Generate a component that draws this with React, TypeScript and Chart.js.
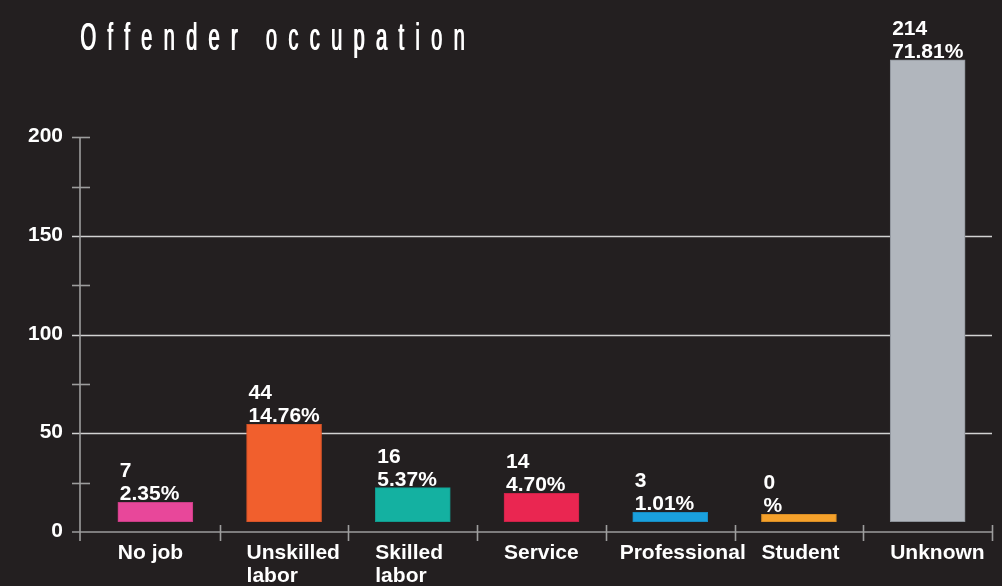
import React, { useEffect, useRef } from "react";
import { Chart, registerables } from "chart.js";

Chart.register(...registerables);

const title = "Offender occupation";
const categories: string[][] = [
  ["No job"],
  ["Unskilled", "labor"],
  ["Skilled", "labor"],
  ["Service"],
  ["Professional"],
  ["Student"],
  ["Unknown"],
];
const counts = [7, 44, 16, 14, 3, 0, 214];
const percents = ["2.35%", "14.76%", "5.37%", "4.70%", "1.01%", "%", "71.81%"];
// visual bar extents as drawn in the picture (floating bars)
const barTops = [15.1, 54.6, 22.5, 19.6, 10.0, 9.0, 239.4];
const barBase = 5.2;
const yTickLabels = [0, 50, 100, 150, 200];
const gridValues = [50, 100, 150];
const minorTicks = [25, 75, 125, 175, 200];
const barColors = ["#e8479a", "#f15f2d", "#14b1a1", "#ea2651", "#1aa0dd", "#f5a12b", "#b1b6bd"];
const barBorders = ["#c93d86", "#d85428", "#119b8e", "#cc2248", "#178cc2", "#d98e25", "#8d9299"];

const BG = "#231f20";
const FONT = "'Liberation Sans', Arial, sans-serif";

const decorPlugin = {
  id: "decor",
  beforeDatasetsDraw(chart: any) {
    const ctx = chart.ctx as CanvasRenderingContext2D;
    const y = chart.scales.y;
    const area = chart.chartArea;
    const axisX = 80;
    const rightX = area.right;
    const zeroY = y.getPixelForValue(0);
    ctx.save();
    // gridlines
    ctx.strokeStyle = "#d2d2d2";
    ctx.lineWidth = 1.3;
    gridValues.forEach((v) => {
      const py = Math.round(y.getPixelForValue(v)) + 0.5;
      ctx.beginPath();
      ctx.moveTo(72, py);
      ctx.lineTo(rightX, py);
      ctx.stroke();
    });
    // axis lines
    ctx.strokeStyle = "#9d9d9d";
    ctx.lineWidth = 1.6;
    ctx.beginPath();
    ctx.moveTo(axisX, y.getPixelForValue(200));
    ctx.lineTo(axisX, zeroY + 9);
    ctx.stroke();
    minorTicks.forEach((v) => {
      const py = Math.round(y.getPixelForValue(v)) + 0.5;
      ctx.beginPath();
      ctx.moveTo(72, py);
      ctx.lineTo(90, py);
      ctx.stroke();
    });
    ctx.beginPath();
    ctx.moveTo(72, zeroY);
    ctx.lineTo(rightX, zeroY);
    ctx.stroke();
    const band = (area.right - area.left) / categories.length;
    for (let i = 1; i <= categories.length; i++) {
      const px = Math.round(area.left + band * i) + 0.5;
      ctx.beginPath();
      ctx.moveTo(px, zeroY - 7);
      ctx.lineTo(px, zeroY + 9);
      ctx.stroke();
    }
    // y labels
    ctx.fillStyle = "#ffffff";
    ctx.font = `bold 21px ${FONT}`;
    ctx.textAlign = "right";
    ctx.textBaseline = "middle";
    yTickLabels.forEach((v) => {
      ctx.fillText(String(v), 63, y.getPixelForValue(v) - 1);
    });
    // title: condensed, widely letter-spaced
    const sx = 0.53;
    const targetWidth = 384;
    ctx.font = `38px ${FONT}`;
    ctx.textAlign = "left";
    ctx.textBaseline = "alphabetic";
    const natural = ctx.measureText(title).width * sx;
    const spacing = (targetWidth - natural) / (title.length - 1);
    ctx.translate(80, 49.5);
    ctx.scale(sx, 1);
    let cx = 0;
    for (const ch of title) {
      ctx.fillText(ch, cx, 0);
      ctx.fillText(ch, cx + 0.9 / sx, 0);
      cx += ctx.measureText(ch).width + spacing / sx;
    }
    ctx.restore();
  },
  afterDatasetsDraw(chart: any) {
    const ctx = chart.ctx as CanvasRenderingContext2D;
    const meta = chart.getDatasetMeta(0);
    const zeroY = chart.scales.y.getPixelForValue(0);
    ctx.save();
    ctx.fillStyle = "#ffffff";
    ctx.font = `bold 21px ${FONT}`;
    ctx.textAlign = "left";
    ctx.textBaseline = "alphabetic";
    meta.data.forEach((el: any, i: number) => {
      const left = el.x - el.width / 2;
      const right = el.x + el.width / 2;
      const top = Math.min(el.y, el.base);
      ctx.fillText(String(counts[i]), left + 2, top - 25);
      ctx.fillText(percents[i], left + 2, top - 2);
      categories[i].forEach((line, j) => {
        const w = ctx.measureText(line).width;
        const lx = Math.min(left, right + 38 - w);
        ctx.fillText(line, lx, zeroY + 27 + j * 23);
      });
    });
    ctx.restore();
  },
};

export default function App() {
  const ref = useRef<HTMLCanvasElement | null>(null);
  useEffect(() => {
    if (!ref.current) return;
    const chart = new Chart(ref.current, {
      type: "bar",
      data: {
        labels: categories.map((c) => c.join(" ")),
        datasets: [
          {
            data: barTops.map((t) => [barBase, t]) as any,
            backgroundColor: barColors,
            borderColor: barBorders,
            borderWidth: 1,
            borderSkipped: false,
            barThickness: 75,
          },
        ],
      },
      options: {
        responsive: false,
        devicePixelRatio: 1,
        animation: false,
        layout: { padding: { left: 91, right: 10, top: 58.6, bottom: 54 } },
        plugins: { legend: { display: false }, tooltip: { enabled: false }, title: { display: false } },
        scales: {
          x: { display: false, offset: true },
          y: { display: false, min: 0, max: 240 },
        },
      },
      plugins: [decorPlugin],
    });
    return () => chart.destroy();
  }, []);
  return (
    <div style={{ position: "absolute", left: 0, top: 0, width: 1002, height: 586, background: BG, overflow: "hidden" }}>
      <canvas ref={ref} width={1002} height={586} style={{ display: "block" }} />
    </div>
  );
}
